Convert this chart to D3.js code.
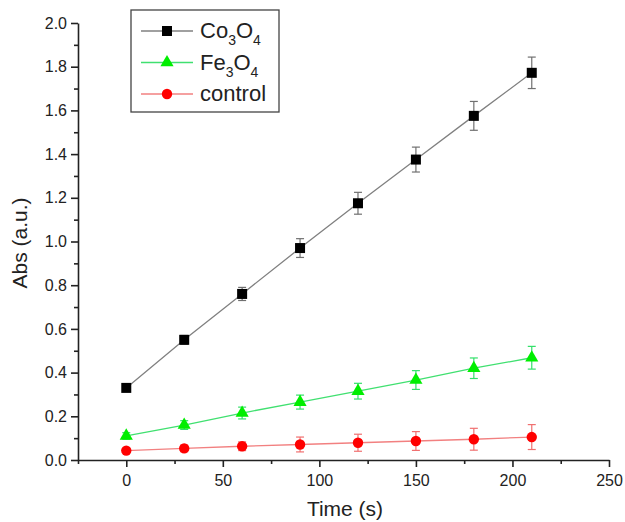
<!DOCTYPE html>
<html lang="en">
<head>
<meta charset="utf-8">
<title>Abs vs Time</title>
<script src="https://cdn.jsdelivr.net/npm/d3@7"></script>
<style>
  body { margin: 0; background: #fff; }
  text { font-family: "Liberation Sans", Arial, sans-serif; fill: #222; }
  .axis path, .axis line { stroke: #222; stroke-width: 1.6px; }
</style>
</head>
<body>
<div id="chart"></div>
<script>
// time points (s)
var times = [0, 30, 60, 90, 120, 150, 180, 210];

// series values + error bars
var co3o4 = [0.33, 0.55, 0.76, 0.97, 1.175, 1.375, 1.575, 1.772];
var co3o4Err = [0.012, 0.02, 0.03, 0.043, 0.05, 0.057, 0.066, 0.072];
var fe3o4 = [0.11, 0.16, 0.215, 0.265, 0.315, 0.366, 0.42, 0.468];
var fe3o4Err = [0.015, 0.02, 0.027, 0.032, 0.036, 0.043, 0.047, 0.052];
var control = [0.043, 0.053, 0.063, 0.071, 0.079, 0.087, 0.095, 0.105];
var controlErr = [0.01, 0.015, 0.02, 0.034, 0.039, 0.043, 0.05, 0.057];

var xTicks = [0, 50, 100, 150, 200, 250];
var yTicks = [0.0, 0.2, 0.4, 0.6, 0.8, 1.0, 1.2, 1.4, 1.6, 1.8, 2.0];

var series = [
  { name: "Co", sub1: "3", mid: "O", sub2: "4", vals: co3o4, err: co3o4Err, shape: "square", line: "#808080", fill: "#000", errColor: "#707070" },
  { name: "Fe", sub1: "3", mid: "O", sub2: "4", vals: fe3o4, err: fe3o4Err, shape: "triangle", line: "#40e070", fill: "#00ee00", errColor: "#33e06a" },
  { name: "control", vals: control, err: controlErr, shape: "circle", line: "#f28080", fill: "#ff0000", errColor: "#f07070" }
];

var width = 625, height = 522;

var svg = d3.select("#chart").append("svg")
  .attr("width", width)
  .attr("height", height);

var x = d3.scaleLinear().domain([-25, 250]).range([78, 609]);
var y = d3.scaleLinear().domain([0, 2.0]).range([460, 23]);

// minor ticks first
svg.append("g")
  .attr("class", "axis")
  .attr("transform", "translate(0,460)")
  .call(d3.axisBottom(x).tickValues(d3.range(-25, 251, 50)).tickSize(4).tickFormat(""))
  .select(".domain").remove();
svg.append("g")
  .attr("class", "axis")
  .attr("transform", "translate(78,0)")
  .call(d3.axisLeft(y).tickValues(d3.range(0.1, 2.0, 0.2)).tickSize(4).tickFormat(""))
  .select(".domain").remove();

var xAxis = svg.append("g")
  .attr("class", "axis")
  .attr("transform", "translate(0,460)")
  .call(d3.axisBottom(x).tickValues(xTicks).tickSize(7).tickSizeOuter(0).tickPadding(8));
xAxis.selectAll("text").style("font-size", "16px");

var yAxis = svg.append("g")
  .attr("class", "axis")
  .attr("transform", "translate(78,0)")
  .call(d3.axisLeft(y).tickValues(yTicks).tickSize(7).tickSizeOuter(0).tickPadding(4).tickFormat(d3.format(".1f")));
yAxis.selectAll("text").style("font-size", "16px");

// axis titles
svg.append("text")
  .attr("x", 345).attr("y", 516)
  .attr("text-anchor", "middle")
  .style("font-size", "21px")
  .text("Time (s)");
svg.append("text")
  .attr("transform", "translate(27,243) rotate(-90)")
  .attr("text-anchor", "middle")
  .style("font-size", "21px")
  .text("Abs (a.u.)");

function drawMarker(g, shape, color, cx, cy) {
  if (shape === "square") {
    g.append("rect").attr("x", cx - 5).attr("y", cy - 5).attr("width", 10).attr("height", 10).attr("fill", color);
  } else if (shape === "triangle") {
    g.append("path").attr("transform", "translate(" + cx + "," + cy + ")")
      .attr("d", d3.symbol().type(d3.symbolTriangle).size(75)).attr("fill", color);
  } else {
    g.append("circle").attr("cx", cx).attr("cy", cy).attr("r", 5.2).attr("fill", color);
  }
}

var line = d3.line()
  .x(function (d) { return x(d[0]); })
  .y(function (d) { return y(d[1]); });

series.forEach(function (s) {
  var g = svg.append("g");
  var pts = times.map(function (t, i) { return [t, s.vals[i]]; });
  g.append("path").datum(pts)
    .attr("d", line)
    .attr("fill", "none")
    .attr("stroke", s.line)
    .attr("stroke-width", 1.3);

  times.forEach(function (t, i) {
    var cx = x(t), top = y(s.vals[i] + s.err[i]), bot = y(s.vals[i] - s.err[i]);
    g.append("line").attr("x1", cx).attr("x2", cx).attr("y1", top).attr("y2", bot)
      .attr("stroke", s.errColor).attr("stroke-width", 1.2);
    [top, bot].forEach(function (yy) {
      g.append("line").attr("x1", cx - 4).attr("x2", cx + 4).attr("y1", yy).attr("y2", yy)
        .attr("stroke", s.errColor).attr("stroke-width", 1.2);
    });
    drawMarker(g, s.shape, s.fill, cx, y(s.vals[i]));
  });
});

// legend
var legend = svg.append("g");
legend.append("rect")
  .attr("x", 131).attr("y", 10).attr("width", 148).attr("height", 102)
  .attr("fill", "#fff").attr("stroke", "#444").attr("stroke-width", 1.3);

series.forEach(function (s, i) {
  var ly = 31 + i * 31.5;
  legend.append("line").attr("x1", 141).attr("x2", 193).attr("y1", ly).attr("y2", ly)
    .attr("stroke", s.line).attr("stroke-width", 1.3);
  drawMarker(legend, s.shape, s.fill, 167, ly);
  var t = legend.append("text").attr("x", 200).attr("y", ly + 7).style("font-size", "22px");
  if (s.sub1) {
    t.append("tspan").text(s.name);
    t.append("tspan").attr("dy", 7).style("font-size", "14px").text(s.sub1);
    t.append("tspan").attr("dy", -7).text(s.mid);
    t.append("tspan").attr("dy", 7).style("font-size", "14px").text(s.sub2);
  } else {
    t.text(s.name);
  }
});
</script>
</body>
</html>
